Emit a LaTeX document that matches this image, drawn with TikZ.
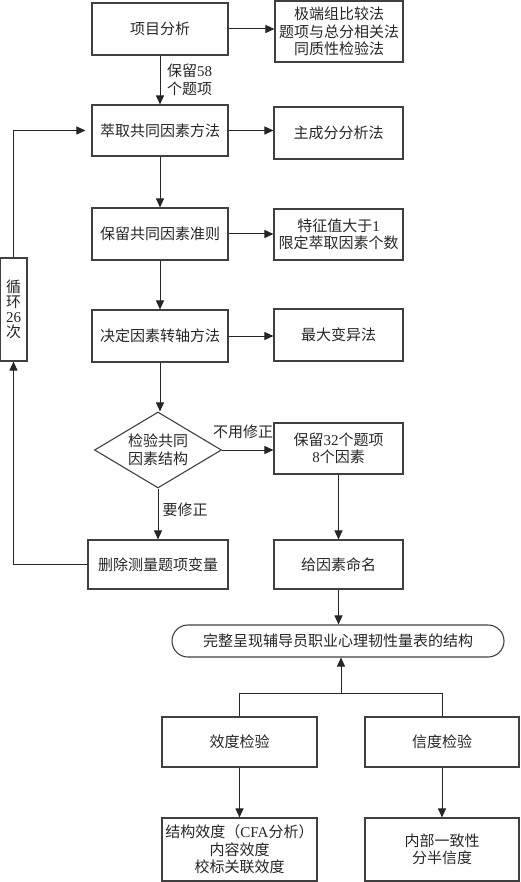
\documentclass[tikz,border=0pt]{standalone}
\usepackage{fontspec}
\setmainfont{Liberation Serif}
\newfontfamily\cjkfont{Noto Sans CJK SC}
\newfontfamily\latfont{Liberation Serif}
\usetikzlibrary{arrows.meta,shapes.geometric}
\newcommand{\nm}[1]{{\latfont #1}}
\begin{document}
\begin{tikzpicture}[x=1pt,y=-1pt,
  every node/.style={font=\cjkfont\fontsize{15}{17.5}\selectfont, text=black!85, align=center},
  box/.style={draw=black!75, line width=1.1pt, rectangle, inner sep=0pt},
  dia/.style={draw=black!75, line width=1.1pt, diamond, aspect=1.67, inner sep=0pt},
  pill/.style={draw=black!75, line width=1.1pt, rectangle, rounded corners=16pt, inner sep=0pt},
  conn/.style={draw=black!85, line width=1pt, -{Triangle[length=9pt,width=8pt]}},
  wire/.style={draw=black!85, line width=1pt},
  lbl/.style={inner sep=0pt}
]
\useasboundingbox (0,0) rectangle (520,882);

% main column
\node[box, minimum width=136pt, minimum height=52pt] (a) at (160,29) {项目分析};
\node[box, minimum width=128pt, minimum height=61pt] (a2) at (339,31.5) {极端组比较法\\题项与总分相关法\\同质性检验法};
\node[box, minimum width=136pt, minimum height=51pt] (b) at (160,130.5) {萃取共同因素方法};
\node[box, minimum width=129pt, minimum height=52pt] (b2) at (338.5,133) {主成分分析法};
\node[box, minimum width=136pt, minimum height=52pt] (c) at (160,234) {保留共同因素准则};
\node[box, minimum width=129pt, minimum height=51pt] (c2) at (338.5,234.5) {特征值大于\nm{1}\\限定萃取因素个数};
\node[box, minimum width=136pt, minimum height=52pt] (d) at (160,336) {决定因素转轴方法};
\node[box, minimum width=129pt, minimum height=52pt] (d2) at (338.5,335) {最大变异法};
\node[dia, minimum width=127pt, minimum height=76pt] (e) at (158,450) {检验共同\\因素结构};
\node[box, minimum width=129pt, minimum height=51pt] (e2) at (338.5,448.5) {保留\nm{32}个题项\\\nm{8}个因素};
\node[box, minimum width=140pt, minimum height=49pt] (f) at (158,564.5) {删除测量题项变量};
\node[box, minimum width=129pt, minimum height=49pt] (f2) at (338.5,564.5) {给因素命名};
\node[pill, minimum width=332pt, minimum height=32pt] (g) at (338,641) {完整呈现辅导员职业心理韧性量表的结构};
\node[box, minimum width=155pt, minimum height=50pt] (h1) at (239.5,742) {效度检验};
\node[box, minimum width=154pt, minimum height=50pt] (h2) at (442,742) {信度检验};
\node[box, minimum width=155pt, minimum height=63pt] (i1) at (239.5,849.5) {结构效度（\nm{CFA}分析）\\内容效度\\校标关联效度};
\node[box, minimum width=154pt, minimum height=63pt] (i2) at (442,849.5) {内部一致性\\分半信度};
\node[box, minimum width=27pt, minimum height=103pt, font=\cjkfont\fontsize{15}{15}\selectfont] (L) at (13.5,309.5) {循\\环\\\nm{26}\\次};

% connectors
\draw[conn] (a.east) -- (a.east -| a2.west);
\draw[conn] (a.south) -- (b.north);
\node[lbl, anchor=west] (la) at (167,80) {保留\nm{58}\\个题项};
\draw[conn] (b.east) -- (b.east -| b2.west);
\draw[conn] (b.south) -- (c.north);
\draw[conn] (c.east) -- (c.east -| c2.west);
\draw[conn] (c.south) -- (d.north);
\draw[conn] (d.east) -- (d.east -| d2.west);
\draw[conn] (d.south) -- (d.south |- e.north);
\draw[conn] (e.east) -- (e.east -| e2.west);
\node[lbl] (le) at (243,432) {不用修正};
\draw[conn] (e.south) -- (e.south |- f.north);
\node[lbl] (lf) at (185,510) {要修正};
\draw[conn] (f.west) -| (L.south);
\draw[conn, shorten >=6pt] (L.north) |- (b.west);
\draw[conn] (e2.south) -- (f2.north);
\draw[conn] (f2.south) -- (f2.south |- g.north);
\coordinate (j) at (341,693);
\draw[wire] (h1.north) -- (h1.north |- j) -- (h2.north |- j) -- (h2.north);
\draw[conn] (j) -- (j |- g.south);
\draw[conn] (h1.south) -- (i1.north);
\draw[conn] (h2.south) -- (i2.north);
\end{tikzpicture}
\end{document}
